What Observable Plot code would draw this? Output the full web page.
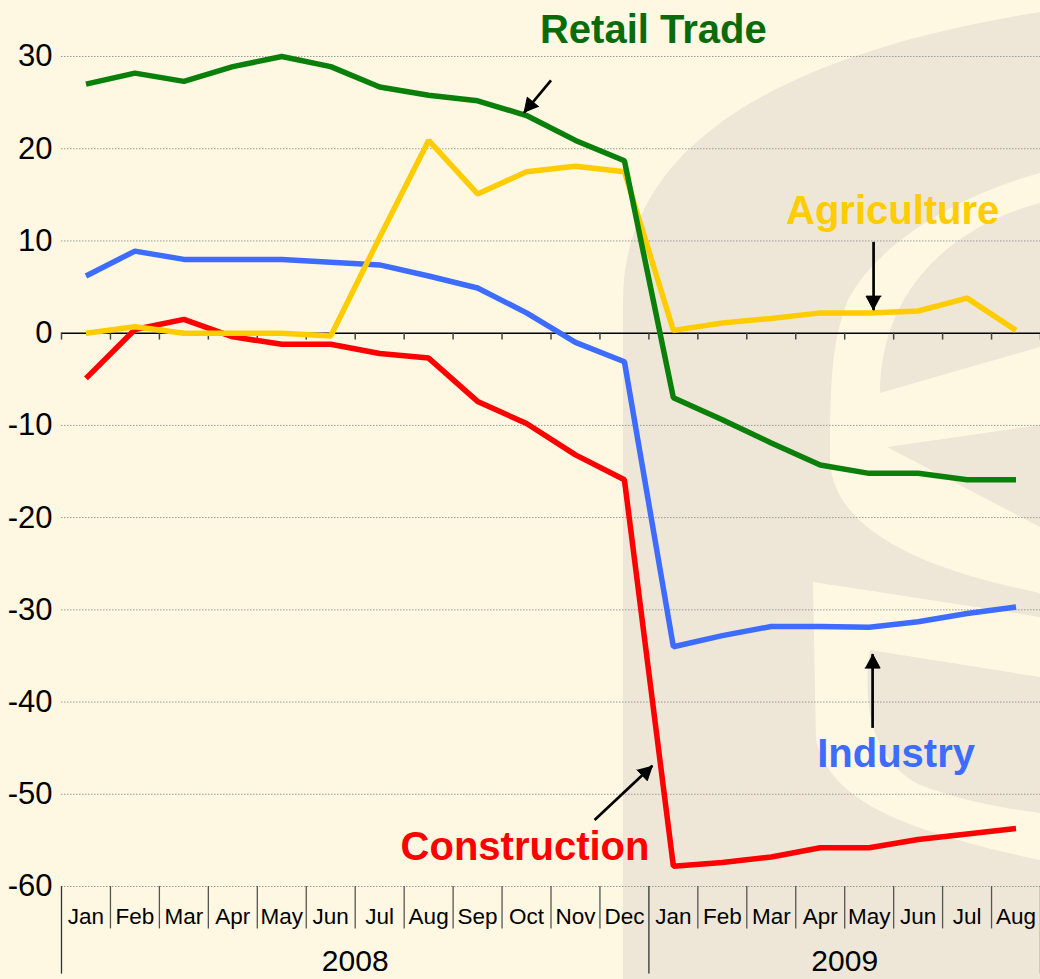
<!DOCTYPE html>
<html>
<head>
<meta charset="utf-8">
<script src="https://cdn.jsdelivr.net/npm/d3@7"></script>
<script src="https://cdn.jsdelivr.net/npm/@observablehq/plot@0.6"></script>
<style>
  html, body { margin: 0; padding: 0; background: #FEF8E3; }
  #wrap { position: relative; width: 1040px; height: 979px; overflow: hidden; font-family: "Liberation Sans", Arial, sans-serif; }
  #bg, #chart svg { position: absolute; left: 0; top: 0; }
</style>
</head>
<body>
<div id="wrap">
  <svg id="bg" width="1040" height="979">
    <rect width="1040" height="979" fill="#FEF8E3"/>
    <path fill="#EEE7D7" d="M623,979 L623,300 C623,150 770,55 1040,12 L1040,979 Z"/>
    <path fill="#FEF8E3" d="M1040,173 C960,195 880,240 848,300 C832,340 830,380 830,460 C832,520 900,565 1040,593 L1040,527 L887,447 L1040,425 L1040,347 L880,393 C880,300 940,230 1040,203 Z"/>
    <path fill="#FEF8E3" d="M813,582 L1040,617 L1040,677 L870,650 C862,700 870,760 920,785 C960,800 1000,808 1040,813 L1040,860 C900,830 830,800 816,740 Z"/>
  </svg>
  <div id="chart"></div>
</div>
<script>
// ---- data ----
const months = ["Jan","Feb","Mar","Apr","May","Jun","Jul","Aug","Sep","Oct","Nov","Dec",
                "Jan","Feb","Mar","Apr","May","Jun","Jul","Aug"];
const years = ["2008", "2009"];
const yearSpans = [[0, 12], [12, 20]];
const yTicks = [30, 20, 10, 0, -10, -20, -30, -40, -50, -60];

const retail = [27.0, 28.2, 27.3, 28.9, 30.0, 28.9, 26.7, 25.8, 25.2, 23.6, 20.9, 18.7,
                -7.0, -9.4, -11.9, -14.3, -15.2, -15.2, -15.9, -15.9];
const agriculture = [0, 0.7, 0, 0, 0, -0.3, 10.4, 20.9, 15.1, 17.5, 18.1, 17.5,
                     0.3, 1.1, 1.6, 2.2, 2.2, 2.4, 3.8, 0.3];
const industry = [6.2, 8.9, 8.0, 8.0, 8.0, 7.7, 7.4, 6.2, 4.9, 2.2, -1.0, -3.1,
                  -34.0, -32.8, -31.8, -31.8, -31.9, -31.3, -30.4, -29.7];
const construction = [-4.9, 0.4, 1.5, -0.4, -1.2, -1.2, -2.2, -2.7, -7.4, -9.8, -13.2, -15.9,
                      -57.8, -57.4, -56.8, -55.8, -55.8, -54.9, -54.3, -53.7];

const seriesNames = ["Construction", "Industry", "Agriculture", "Retail Trade"];
const seriesValues = [construction, industry, agriculture, retail];
const seriesColors = ["#FF0000", "#3D6CFF", "#FFCC00", "#0A800A"];
const labelColors = ["#FF0000", "#3D6CFF", "#FFCC00", "#0A6B0A"];

// annotation labels and arrows (data units: x = month index, y = value)
const labels = [
  {name: "Retail Trade", x: 12.09, y: 32.8},
  {name: "Agriculture", x: 16.98, y: 13.2},
  {name: "Industry", x: 17.05, y: -45.65},
  {name: "Construction", x: 9.47, y: -55.75}
];
const arrows = [
  {x1: 10.0, y1: 27.4, x2: 9.45, y2: 23.9},
  {x1: 16.59, y1: 9.9, x2: 16.59, y2: 2.5},
  {x1: 16.57, y1: -42.8, x2: 16.57, y2: -34.8},
  {x1: 10.89, y1: -52.8, x2: 12.07, y2: -46.9}
];

// ---- layout ----
const W = 1040, H = 979, mL = 61, mR = 0, mT = 56, mB = 93;
const xDomain = [0, months.length], yDomain = [-60, 30];
const pxX = (W - mL - mR) / (xDomain[1] - xDomain[0]);
const pxY = (H - mT - mB) / (yDomain[1] - yDomain[0]);

// ---- tables built from arrays ----
const rows = [];
seriesNames.forEach((s, k) => seriesValues[k].forEach((v, i) => rows.push({series: s, i: i + 0.5, value: v})));
const monthRows = months.map((m, i) => ({m, i: i + 0.5}));
const bounds = d3.range(0, months.length + 1);
const yearBounds = [0, 12, 20];
const monthBounds = bounds.filter(b => !yearBounds.includes(b));
const yearRows = years.map((y, k) => ({y, x: (yearSpans[k][0] + yearSpans[k][1]) / 2}));

// filled arrowheads (triangle polygons)
const headL = 14, headW = 7.5;
const heads = [];
arrows.forEach((a, k) => {
  const dxp = (a.x2 - a.x1) * pxX, dyp = -(a.y2 - a.y1) * pxY;
  const len = Math.hypot(dxp, dyp), ux = dxp / len, uy = dyp / len;
  const nx = -uy, ny = ux;
  const toData = (ox, oy) => ({k, x: a.x2 + ox / pxX, y: a.y2 - oy / pxY});
  heads.push(toData(0, 0));
  heads.push(toData(-ux * headL + nx * headW, -uy * headL + ny * headW));
  heads.push(toData(-ux * headL - nx * headW, -uy * headL - ny * headW));
});

const chart = Plot.plot({
  width: W,
  height: H,
  marginLeft: mL,
  marginRight: mR,
  marginTop: mT,
  marginBottom: mB,
  style: {background: "transparent", fontFamily: "'Liberation Sans', Arial, sans-serif", overflow: "visible"},
  x: {domain: xDomain, axis: null},
  y: {domain: yDomain, axis: null},
  color: {domain: seriesNames, range: seriesColors},
  marks: [
    Plot.ruleY(yTicks.filter(d => d !== 0), {y: d => d, stroke: "#9a9a9a", strokeWidth: 1, strokeDasharray: "1.5,1.5"}),
    Plot.text(yTicks, {x: 0, y: d => d, text: d => String(d), textAnchor: "end", dx: -9, fontSize: 31, fill: "black"}),
    Plot.ruleX(monthBounds, {x: d => d, y1: -60, y2: -64.6, stroke: "#555", strokeWidth: 1.3}),
    Plot.ruleX(yearBounds, {x: d => d, y1: -60, y2: -69.5, stroke: "#333", strokeWidth: 1.3}),
    Plot.text(monthRows, {x: "i", y: -60, text: "m", dy: 30, fontSize: 22.5, fill: "black"}),
    Plot.text(yearRows, {x: "x", y: -60, text: "y", dy: 75, fontSize: 30, fill: "black"}),
    Plot.ruleY([0], {stroke: "black", strokeWidth: 1.5}),
    Plot.ruleX(bounds, {x: d => d, y1: 0, y2: -0.75, stroke: "#444", strokeWidth: 1.5}),
    Plot.line(rows, {x: "i", y: "value", z: "series", stroke: "series", strokeWidth: 5.5, strokeLinejoin: "miter", strokeLinecap: "butt"}),
    Plot.link(arrows, {x1: "x1", y1: "y1", x2: "x2", y2: "y2", stroke: "black", strokeWidth: 2.7}),
    Plot.line(heads, {x: "x", y: "y", z: "k", fill: "black", stroke: "black", strokeWidth: 1}),
    Plot.text(labels, {x: "x", y: "y", text: "name", fill: d => labelColors[seriesNames.indexOf(d.name)], fontSize: 40, fontWeight: "bold", textAnchor: "middle"})
  ]
});
document.getElementById("chart").appendChild(chart);
</script>
</body>
</html>
